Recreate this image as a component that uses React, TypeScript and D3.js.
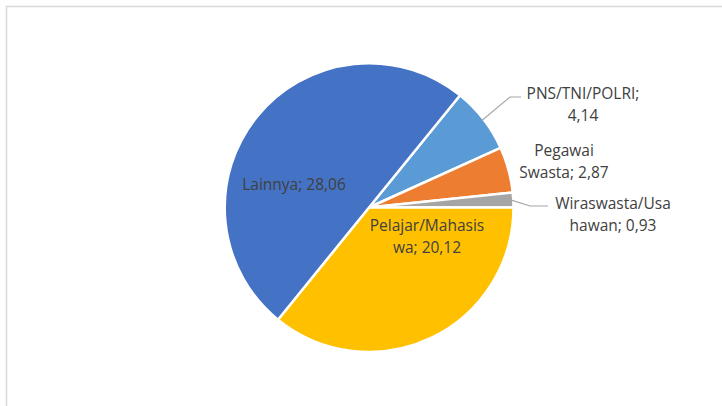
import React, { useEffect, useRef } from 'react';
import * as d3 from 'd3';

// data
const categories = ['PNS/TNI/POLRI', 'Pegawai Swasta', 'Wiraswasta/Usahawan', 'Pelajar/Mahasiswa', 'Lainnya'];
const values = [4.14, 2.87, 0.93, 20.12, 28.06];
const colors = ['#5B9BD5', '#ED7D31', '#A5A5A5', '#FFC000', '#4472C4'];
// label lines as they wrap in the picture
const labelLines = [
    ['PNS/TNI/POLRI;', '4,14'],
    ['Pegawai', 'Swasta; 2,87'],
    ['Wiraswasta/Usa', 'hawan; 0,93'],
    ['Pelajar/Mahasis', 'wa; 20,12'],
    ['Lainnya; 28,06'],
];

const W = 722;
const H = 406;

function App() {
    const ref = useRef<SVGSVGElement>(null);

    useEffect(() => {
        const svg = d3.select(ref.current);
        svg.selectAll('*').remove();

        // chart area border (cut off at right / bottom)
        svg.append('rect')
            .attr('x', 6.5)
            .attr('y', 6.5)
            .attr('width', 800)
            .attr('height', 500)
            .attr('fill', '#fff')
            .attr('stroke', '#D9D9D9')
            .attr('stroke-width', 1.5);

        const cx = 369, cy = 207.5, r = 144.5;
        const start = (39.07 * Math.PI) / 180;

        const pie = d3.pie<number>()
            .sort(null)
            .startAngle(start)
            .endAngle(start + 2 * Math.PI);
        const arcs = pie(values);
        const arc = d3.arc<d3.PieArcDatum<number>>()
            .innerRadius(0)
            .outerRadius(r);

        const g = svg.append('g').attr('transform', `translate(${cx},${cy})`);
        g.selectAll('path')
            .data(arcs)
            .enter()
            .append('path')
            .attr('d', arc)
            .attr('fill', (d, i) => colors[i])
            .attr('stroke', '#fff')
            .attr('stroke-width', 2.5)
            .attr('stroke-linejoin', 'round');

        // label centres (x, y of the first line), picked to match the picture
        const labelPos: [number, number][] = [
            [583, 93],
            [564, 150],
            [613, 203],
            [427, 225],
            [294, 184],
        ];

        // leader lines for the two labels outside with a kink
        const leaders: { i: number; bend: [number, number]; end: [number, number] }[] = [
            { i: 0, bend: [510, 97], end: [521, 97] },
            { i: 2, bend: [530, 206], end: [548, 206] },
        ];
        leaders.forEach(l => {
            const a = arcs[l.i];
            const mid = (a.startAngle + a.endAngle) / 2;
            const p0: [number, number] = [cx + (r - 2) * Math.sin(mid), cy - (r - 2) * Math.cos(mid)];
            svg.append('path')
                .attr('d', d3.line()([p0, l.bend, l.end]))
                .attr('fill', 'none')
                .attr('stroke', '#A6A6A6')
                .attr('stroke-width', 1.2);
        });

        labelPos.forEach((p, i) => {
            const t = svg.append('text')
                .attr('x', p[0])
                .attr('y', p[1])
                .attr('text-anchor', 'middle')
                .attr('dominant-baseline', 'central')
                .attr('fill', '#404040')
                .style('font-family', "'Open Sans', 'Noto Sans', sans-serif")
                .style('font-size', '15.5px');
            labelLines[i].forEach((line, j) => {
                t.append('tspan')
                    .attr('x', p[0])
                    .attr('y', p[1] + j * 21.5)
                    .text(line);
            });
        });
    }, []);

    return (
        <svg ref={ref} width={W} height={H}
             style={{ position: 'absolute', left: 0, top: 0, display: 'block', background: '#fff' }} />
    );
}

export default App;
